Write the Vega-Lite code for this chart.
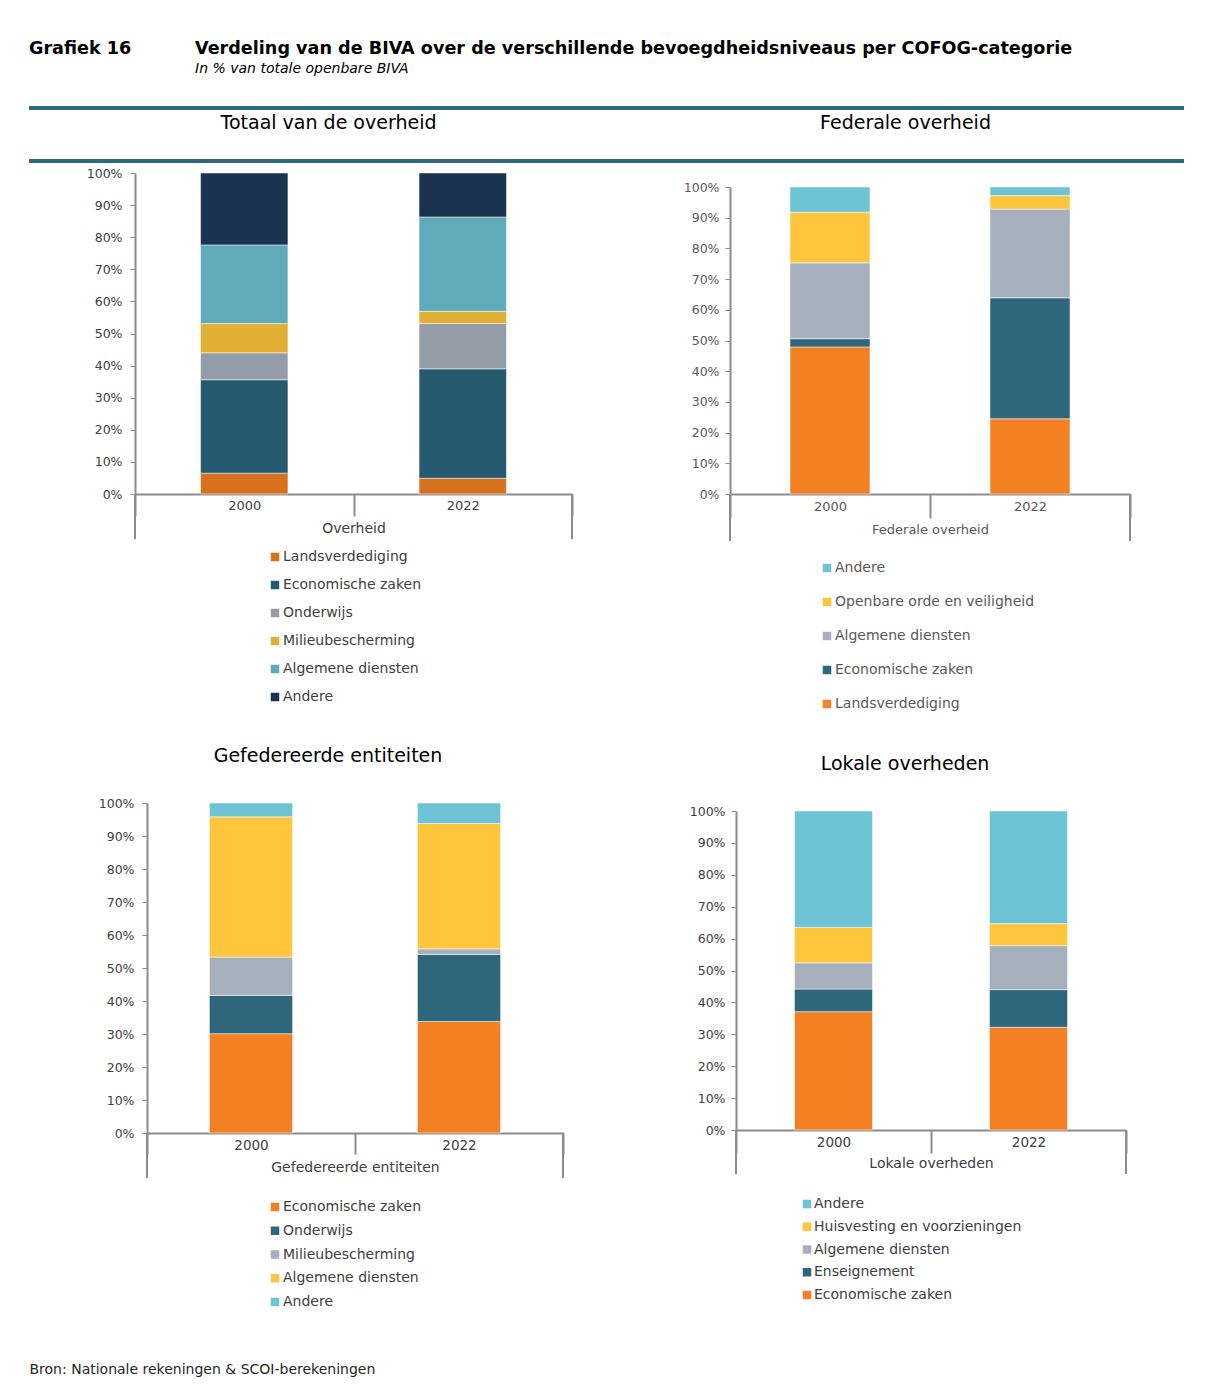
{
  "$schema": "https://vega.github.io/schema/vega-lite/v6.json",
  "background": "white",
  "padding": {"top": 40, "left": 27, "right": 0, "bottom": 0},
  "config": {
    "view": {"stroke": null},
    "font": "DejaVu Sans",
    "axis": {"labelFont": "DejaVu Sans", "titleFont": "DejaVu Sans"},
    "legend": {"labelFont": "DejaVu Sans"}
  },
  "columns": 5,
  "spacing": 0,
  "align": "each",
  "bounds": "flush",
  "resolve": {
    "scale": {"color": "independent", "x": "independent", "y": "independent"},
    "legend": {"color": "independent"}
  },
  "concat": [
    {
      "width": 106, "height": 27, "data": {"values": []}, "mark": "text",
      "title": {"text": "Grafiek 16", "anchor": "start", "font": "DejaVu Sans", "fontSize": 17.6, "fontWeight": "bold", "color": "#000000", "offset": 5, "dy": -18}
    },
    {
      "width": 437, "height": 27, "data": {"values": []}, "mark": "text",
      "title": {
        "text": "Verdeling van de BIVA over de verschillende bevoegdheidsniveaus per COFOG-categorie",
        "subtitle": "In % van totale openbare BIVA",
        "anchor": "start", "dx": 60, "font": "DejaVu Sans", "fontSize": 17.6, "fontWeight": "bold", "color": "#000000",
        "subtitleFont": "DejaVu Sans", "subtitleFontSize": 14, "subtitleFontStyle": "italic", "subtitleColor": "#000000",
        "subtitlePadding": 4, "offset": 5
      }
    },
    {"width": 1, "height": 1, "data": {"values": []}, "mark": "text"},
    {"width": 1, "height": 1, "data": {"values": []}, "mark": "text"},
    {"width": 1, "height": 1, "data": {"values": []}, "mark": "text"},

    {
      "width": 106, "height": 53,
      "data": {"values": [{"lijn": 0}, {"lijn": 1}]},
      "mark": {"type": "rule", "color": "#2E6B80", "strokeWidth": 4},
      "encoding": {"y": {"field": "lijn", "type": "quantitative", "scale": {"domain": [0, 1]}, "axis": null}}
    },
    {
      "width": 437, "height": 53,
      "layer": [
        {
          "data": {"values": [{"lijn": 0}, {"lijn": 1}]},
          "mark": {"type": "rule", "color": "#2E6B80", "strokeWidth": 4},
          "encoding": {"y": {"field": "lijn", "type": "quantitative", "scale": {"domain": [0, 1]}, "axis": null}}
        },
        {
          "data": {"values": [{"titel": "Totaal van de overheid"}]},
          "mark": {"type": "text", "font": "DejaVu Sans", "fontSize": 19, "color": "#000000", "baseline": "middle", "align": "center", "dx": -25, "dy": -11.5},
          "encoding": {"y": {"datum": 0.5, "type": "quantitative"}, "text": {"field": "titel"}}
        }
      ]
    },
    {
      "width": 158, "height": 53,
      "data": {"values": [{"lijn": 0}, {"lijn": 1}]},
      "mark": {"type": "rule", "color": "#2E6B80", "strokeWidth": 4},
      "encoding": {"y": {"field": "lijn", "type": "quantitative", "scale": {"domain": [0, 1]}, "axis": null}}
    },
    {
      "width": 400, "height": 53,
      "layer": [
        {
          "data": {"values": [{"lijn": 0}, {"lijn": 1}]},
          "mark": {"type": "rule", "color": "#2E6B80", "strokeWidth": 4},
          "encoding": {"y": {"field": "lijn", "type": "quantitative", "scale": {"domain": [0, 1]}, "axis": null}}
        },
        {
          "data": {"values": [{"titel": "Federale overheid"}]},
          "mark": {"type": "text", "font": "DejaVu Sans", "fontSize": 19, "color": "#000000", "baseline": "middle", "align": "center", "dx": -24.5, "dy": -11.5},
          "encoding": {"y": {"datum": 0.5, "type": "quantitative"}, "text": {"field": "titel"}}
        }
      ]
    },
    {
      "width": 54, "height": 53,
      "data": {"values": [{"lijn": 0}, {"lijn": 1}]},
      "mark": {"type": "rule", "color": "#2E6B80", "strokeWidth": 4},
      "encoding": {"y": {"field": "lijn", "type": "quantitative", "scale": {"domain": [0, 1]}, "axis": null}}
    },

    {"width": 1, "height": 12, "data": {"values": []}, "mark": "text"},
    {"width": 1, "height": 1, "data": {"values": []}, "mark": "text"},
    {"width": 1, "height": 1, "data": {"values": []}, "mark": "text"},
    {"width": 1, "height": 1, "data": {"values": []}, "mark": "text"},
    {"width": 1, "height": 1, "data": {"values": []}, "mark": "text"},

    {"width": 1, "height": 1, "data": {"values": []}, "mark": "text"},
    {
      "width": 437, "height": 321,
      "data": {"values": [
        {"jaar": "2000", "categorie": "Landsverdediging", "volgorde": 1, "aandeel": 0.065},
        {"jaar": "2000", "categorie": "Economische zaken", "volgorde": 2, "aandeel": 0.291},
        {"jaar": "2000", "categorie": "Onderwijs", "volgorde": 3, "aandeel": 0.084},
        {"jaar": "2000", "categorie": "Milieubescherming", "volgorde": 4, "aandeel": 0.091},
        {"jaar": "2000", "categorie": "Algemene diensten", "volgorde": 5, "aandeel": 0.245},
        {"jaar": "2000", "categorie": "Andere", "volgorde": 6, "aandeel": 0.224},
        {"jaar": "2022", "categorie": "Landsverdediging", "volgorde": 1, "aandeel": 0.049},
        {"jaar": "2022", "categorie": "Economische zaken", "volgorde": 2, "aandeel": 0.341},
        {"jaar": "2022", "categorie": "Onderwijs", "volgorde": 3, "aandeel": 0.141},
        {"jaar": "2022", "categorie": "Milieubescherming", "volgorde": 4, "aandeel": 0.038},
        {"jaar": "2022", "categorie": "Algemene diensten", "volgorde": 5, "aandeel": 0.294},
        {"jaar": "2022", "categorie": "Andere", "volgorde": 6, "aandeel": 0.137}
      ]},
      "layer": [
        {
          "mark": {"type": "bar", "width": {"band": 0.4}, "stroke": "#ffffff", "strokeWidth": 0.5},
          "encoding": {
            "x": {"field": "jaar", "type": "nominal", "scale": {"paddingInner": 0, "paddingOuter": 0},
              "axis": {"title": "Overheid", "labelAngle": 0, "tickBand": "extent", "tickSize": 22, "tickWidth": 2, "tickColor": "#8c8c8c", "domainColor": "#8c8c8c", "domainWidth": 2, "labelFontSize": 13, "labelColor": "#404040", "labelPadding": -16.5, "titleFontSize": 14, "titleFontWeight": "normal", "titleColor": "#404040", "titlePadding": 4}},
            "y": {"field": "aandeel", "type": "quantitative", "stack": "zero", "scale": {"domain": [0, 1]},
              "axis": {"title": null, "format": ".0%", "values": [0, 0.1, 0.2, 0.3, 0.4, 0.5, 0.6, 0.7, 0.8, 0.9, 1], "labelOverlap": false, "grid": false, "domainColor": "#8c8c8c", "domainWidth": 2, "tickColor": "#8c8c8c", "tickSize": 5, "labelFontSize": 12.5, "labelColor": "#404040", "labelPadding": 8}},
            "color": {"field": "categorie", "type": "nominal",
              "scale": {"domain": ["Landsverdediging", "Economische zaken", "Onderwijs", "Milieubescherming", "Algemene diensten", "Andere"], "range": ["#D7711E", "#265A6F", "#949CA7", "#E1AF34", "#60ABBA", "#1A3350"]},
              "legend": {"orient": "none", "legendX": 133, "legendY": 377, "title": null, "direction": "vertical", "symbolType": "square", "symbolSize": 72, "symbolStrokeWidth": 0, "labelFontSize": 14, "labelColor": "#404040", "labelOffset": 1, "rowPadding": 14, "labelLimit": 300, "padding": 0}},
            "order": {"field": "volgorde", "type": "quantitative"}
          }
        },
        {
          "data": {"values": [{"jaar": "2000"}]},
          "mark": {"type": "rule", "color": "#8c8c8c", "strokeWidth": 2},
          "encoding": {"x": {"field": "jaar", "type": "nominal", "bandPosition": 0}, "y": {"datum": 0, "axis": {"title": null, "format": ".0%", "values": [0, 0.1, 0.2, 0.3, 0.4, 0.5, 0.6, 0.7, 0.8, 0.9, 1], "labelOverlap": false, "grid": false, "domainColor": "#8c8c8c", "domainWidth": 2, "tickColor": "#8c8c8c", "tickSize": 5, "labelFontSize": 12.5, "labelColor": "#404040", "labelPadding": 8}}, "y2": {"datum": -0.14}}
        },
        {
          "data": {"values": [{"jaar": "2022"}]},
          "mark": {"type": "rule", "color": "#8c8c8c", "strokeWidth": 2},
          "encoding": {"x": {"field": "jaar", "type": "nominal", "bandPosition": 1}, "y": {"datum": 0, "axis": {"title": null, "format": ".0%", "values": [0, 0.1, 0.2, 0.3, 0.4, 0.5, 0.6, 0.7, 0.8, 0.9, 1], "labelOverlap": false, "grid": false, "domainColor": "#8c8c8c", "domainWidth": 2, "tickColor": "#8c8c8c", "tickSize": 5, "labelFontSize": 12.5, "labelColor": "#404040", "labelPadding": 8}}, "y2": {"datum": -0.14}}
        }
      ]
    },
    {"width": 1, "height": 1, "data": {"values": []}, "mark": "text"},
    {
      "width": 400, "height": 321,
      "data": {"values": [
        {"jaar": "2000", "categorie": "Landsverdediging", "volgorde": 1, "aandeel": 0.479},
        {"jaar": "2000", "categorie": "Economische zaken", "volgorde": 2, "aandeel": 0.027},
        {"jaar": "2000", "categorie": "Algemene diensten", "volgorde": 3, "aandeel": 0.247},
        {"jaar": "2000", "categorie": "Openbare orde en veiligheid", "volgorde": 4, "aandeel": 0.165},
        {"jaar": "2000", "categorie": "Andere", "volgorde": 5, "aandeel": 0.082},
        {"jaar": "2022", "categorie": "Landsverdediging", "volgorde": 1, "aandeel": 0.245},
        {"jaar": "2022", "categorie": "Economische zaken", "volgorde": 2, "aandeel": 0.394},
        {"jaar": "2022", "categorie": "Algemene diensten", "volgorde": 3, "aandeel": 0.289},
        {"jaar": "2022", "categorie": "Openbare orde en veiligheid", "volgorde": 4, "aandeel": 0.044},
        {"jaar": "2022", "categorie": "Andere", "volgorde": 5, "aandeel": 0.028}
      ]},
      "layer": [
        {
          "mark": {"type": "bar", "width": {"band": 0.4}, "stroke": "#ffffff", "strokeWidth": 0.5},
          "encoding": {
            "x": {"field": "jaar", "type": "nominal", "scale": {"paddingInner": 0, "paddingOuter": 0},
              "axis": {"title": "Federale overheid", "labelAngle": 0, "tickBand": "extent", "tickSize": 24, "tickWidth": 2, "tickColor": "#8c8c8c", "domainColor": "#8c8c8c", "domainWidth": 2, "labelFontSize": 13, "labelColor": "#595959", "labelPadding": -17.5, "titleFontSize": 13, "titleFontWeight": "normal", "titleColor": "#595959", "titlePadding": 4}},
            "y": {"field": "aandeel", "type": "quantitative", "stack": "zero", "scale": {"domain": [0, 1], "range": [321, 14]},
              "axis": {"title": null, "format": ".0%", "values": [0, 0.1, 0.2, 0.3, 0.4, 0.5, 0.6, 0.7, 0.8, 0.9, 1], "labelOverlap": false, "grid": false, "domainColor": "#8c8c8c", "domainWidth": 2, "tickColor": "#8c8c8c", "tickSize": 5, "labelFontSize": 12.5, "labelColor": "#595959", "labelPadding": 6}},
            "color": {"field": "categorie", "type": "nominal",
              "scale": {"domain": ["Andere", "Openbare orde en veiligheid", "Algemene diensten", "Economische zaken", "Landsverdediging"], "range": ["#6EC3D4", "#FFC53D", "#A6B0BC", "#2E667C", "#F38123"]},
              "legend": {"orient": "none", "legendX": 90, "legendY": 388, "title": null, "direction": "vertical", "symbolType": "square", "symbolSize": 72, "symbolStrokeWidth": 0, "labelFontSize": 14, "labelColor": "#595959", "labelOffset": 1, "rowPadding": 20, "labelLimit": 300, "padding": 0}},
            "order": {"field": "volgorde", "type": "quantitative"}
          }
        },
        {
          "data": {"values": [{"jaar": "2000"}]},
          "mark": {"type": "rule", "color": "#8c8c8c", "strokeWidth": 2},
          "encoding": {"x": {"field": "jaar", "type": "nominal", "bandPosition": 0}, "y": {"datum": 0, "axis": {"title": null, "format": ".0%", "values": [0, 0.1, 0.2, 0.3, 0.4, 0.5, 0.6, 0.7, 0.8, 0.9, 1], "labelOverlap": false, "grid": false, "domainColor": "#8c8c8c", "domainWidth": 2, "tickColor": "#8c8c8c", "tickSize": 5, "labelFontSize": 12.5, "labelColor": "#595959", "labelPadding": 6}}, "y2": {"datum": -0.153}}
        },
        {
          "data": {"values": [{"jaar": "2022"}]},
          "mark": {"type": "rule", "color": "#8c8c8c", "strokeWidth": 2},
          "encoding": {"x": {"field": "jaar", "type": "nominal", "bandPosition": 1}, "y": {"datum": 0, "axis": {"title": null, "format": ".0%", "values": [0, 0.1, 0.2, 0.3, 0.4, 0.5, 0.6, 0.7, 0.8, 0.9, 1], "labelOverlap": false, "grid": false, "domainColor": "#8c8c8c", "domainWidth": 2, "tickColor": "#8c8c8c", "tickSize": 5, "labelFontSize": 12.5, "labelColor": "#595959", "labelPadding": 6}}, "y2": {"datum": -0.153}}
        }
      ]
    },
    {"width": 1, "height": 1, "data": {"values": []}, "mark": "text"},

    {"width": 1, "height": 309, "data": {"values": []}, "mark": "text"},
    {"width": 1, "height": 1, "data": {"values": []}, "mark": "text"},
    {"width": 1, "height": 1, "data": {"values": []}, "mark": "text"},
    {"width": 1, "height": 1, "data": {"values": []}, "mark": "text"},
    {"width": 1, "height": 1, "data": {"values": []}, "mark": "text"},

    {"width": 1, "height": 1, "data": {"values": []}, "mark": "text"},
    {
      "width": 437, "height": 330,
      "title": {"text": "Gefedereerde entiteiten", "font": "DejaVu Sans", "fontSize": 19, "fontWeight": "normal", "color": "#000000", "anchor": "middle", "dx": -25.5, "offset": 31},
      "data": {"values": [
        {"jaar": "2000", "categorie": "Economische zaken", "volgorde": 1, "aandeel": 0.301},
        {"jaar": "2000", "categorie": "Onderwijs", "volgorde": 2, "aandeel": 0.116},
        {"jaar": "2000", "categorie": "Milieubescherming", "volgorde": 3, "aandeel": 0.116},
        {"jaar": "2000", "categorie": "Algemene diensten", "volgorde": 4, "aandeel": 0.425},
        {"jaar": "2000", "categorie": "Andere", "volgorde": 5, "aandeel": 0.042},
        {"jaar": "2022", "categorie": "Economische zaken", "volgorde": 1, "aandeel": 0.338},
        {"jaar": "2022", "categorie": "Onderwijs", "volgorde": 2, "aandeel": 0.203},
        {"jaar": "2022", "categorie": "Milieubescherming", "volgorde": 3, "aandeel": 0.017},
        {"jaar": "2022", "categorie": "Algemene diensten", "volgorde": 4, "aandeel": 0.38},
        {"jaar": "2022", "categorie": "Andere", "volgorde": 5, "aandeel": 0.062}
      ]},
      "layer": [
        {
          "mark": {"type": "bar", "width": {"band": 0.4}, "stroke": "#ffffff", "strokeWidth": 0.5},
          "encoding": {
            "x": {"field": "jaar", "type": "nominal", "scale": {"paddingInner": 0, "paddingOuter": 0, "range": [12, 428]},
              "axis": {"title": "Gefedereerde entiteiten", "labelAngle": 0, "tickBand": "extent", "tickSize": 21, "tickWidth": 2, "tickColor": "#8c8c8c", "domainColor": "#8c8c8c", "domainWidth": 2, "labelFontSize": 13.5, "labelColor": "#404040", "labelPadding": -15.5, "titleFontSize": 14, "titleFontWeight": "normal", "titleColor": "#404040", "titlePadding": 5}},
            "y": {"field": "aandeel", "type": "quantitative", "stack": "zero", "scale": {"domain": [0, 1]},
              "axis": {"title": null, "offset": -12, "format": ".0%", "values": [0, 0.1, 0.2, 0.3, 0.4, 0.5, 0.6, 0.7, 0.8, 0.9, 1], "labelOverlap": false, "grid": false, "domainColor": "#8c8c8c", "domainWidth": 2, "tickColor": "#8c8c8c", "tickSize": 5, "labelFontSize": 12.5, "labelColor": "#404040", "labelPadding": 8}},
            "color": {"field": "categorie", "type": "nominal",
              "scale": {"domain": ["Economische zaken", "Onderwijs", "Milieubescherming", "Algemene diensten", "Andere"], "range": ["#F38123", "#2E667C", "#A6B0BC", "#FFC53D", "#6EC3D4"]},
              "legend": {"orient": "none", "legendX": 133, "legendY": 397, "title": null, "direction": "vertical", "symbolType": "square", "symbolSize": 72, "symbolStrokeWidth": 0, "labelFontSize": 14, "labelColor": "#404040", "labelOffset": 1, "rowPadding": 9.75, "labelLimit": 300, "padding": 0}},
            "order": {"field": "volgorde", "type": "quantitative"}
          }
        },
        {
          "data": {"values": [{"jaar": "2000"}]},
          "mark": {"type": "rule", "color": "#8c8c8c", "strokeWidth": 2},
          "encoding": {"x": {"field": "jaar", "type": "nominal", "bandPosition": 0}, "y": {"datum": 0, "axis": {"title": null, "offset": -12, "format": ".0%", "values": [0, 0.1, 0.2, 0.3, 0.4, 0.5, 0.6, 0.7, 0.8, 0.9, 1], "labelOverlap": false, "grid": false, "domainColor": "#8c8c8c", "domainWidth": 2, "tickColor": "#8c8c8c", "tickSize": 5, "labelFontSize": 12.5, "labelColor": "#404040", "labelPadding": 8}}, "y2": {"datum": -0.136}}
        },
        {
          "data": {"values": [{"jaar": "2022"}]},
          "mark": {"type": "rule", "color": "#8c8c8c", "strokeWidth": 2},
          "encoding": {"x": {"field": "jaar", "type": "nominal", "bandPosition": 1}, "y": {"datum": 0, "axis": {"title": null, "offset": -12, "format": ".0%", "values": [0, 0.1, 0.2, 0.3, 0.4, 0.5, 0.6, 0.7, 0.8, 0.9, 1], "labelOverlap": false, "grid": false, "domainColor": "#8c8c8c", "domainWidth": 2, "tickColor": "#8c8c8c", "tickSize": 5, "labelFontSize": 12.5, "labelColor": "#404040", "labelPadding": 8}}, "y2": {"datum": -0.136}}
        }
      ]
    },
    {"width": 1, "height": 1, "data": {"values": []}, "mark": "text"},
    {
      "width": 400, "height": 327,
      "title": {"text": "Lokale overheden", "font": "DejaVu Sans", "fontSize": 19, "fontWeight": "normal", "color": "#000000", "anchor": "middle", "dx": -25, "offset": 29.5},
      "data": {"values": [
        {"jaar": "2000", "categorie": "Economische zaken", "volgorde": 1, "aandeel": 0.371},
        {"jaar": "2000", "categorie": "Enseignement", "volgorde": 2, "aandeel": 0.071},
        {"jaar": "2000", "categorie": "Algemene diensten", "volgorde": 3, "aandeel": 0.082},
        {"jaar": "2000", "categorie": "Huisvesting en voorzieningen", "volgorde": 4, "aandeel": 0.111},
        {"jaar": "2000", "categorie": "Andere", "volgorde": 5, "aandeel": 0.365},
        {"jaar": "2022", "categorie": "Economische zaken", "volgorde": 1, "aandeel": 0.322},
        {"jaar": "2022", "categorie": "Enseignement", "volgorde": 2, "aandeel": 0.118},
        {"jaar": "2022", "categorie": "Algemene diensten", "volgorde": 3, "aandeel": 0.138},
        {"jaar": "2022", "categorie": "Huisvesting en voorzieningen", "volgorde": 4, "aandeel": 0.069},
        {"jaar": "2022", "categorie": "Andere", "volgorde": 5, "aandeel": 0.353}
      ]},
      "layer": [
        {
          "mark": {"type": "bar", "width": {"band": 0.4}, "stroke": "#ffffff", "strokeWidth": 0.5},
          "encoding": {
            "x": {"field": "jaar", "type": "nominal", "scale": {"paddingInner": 0, "paddingOuter": 0, "range": [6, 396]},
              "axis": {"title": "Lokale overheden", "labelAngle": 0, "tickBand": "extent", "tickSize": 23, "tickWidth": 2, "tickColor": "#8c8c8c", "domainColor": "#8c8c8c", "domainWidth": 2, "labelFontSize": 13.5, "labelColor": "#404040", "labelPadding": -17.5, "titleFontSize": 14, "titleFontWeight": "normal", "titleColor": "#404040", "titlePadding": 2}},
            "y": {"field": "aandeel", "type": "quantitative", "stack": "zero", "scale": {"domain": [0, 1], "range": [327, 8]},
              "axis": {"title": null, "offset": -6, "format": ".0%", "values": [0, 0.1, 0.2, 0.3, 0.4, 0.5, 0.6, 0.7, 0.8, 0.9, 1], "labelOverlap": false, "grid": false, "domainColor": "#8c8c8c", "domainWidth": 2, "tickColor": "#8c8c8c", "tickSize": 5, "labelFontSize": 12.5, "labelColor": "#404040", "labelPadding": 6}},
            "color": {"field": "categorie", "type": "nominal",
              "scale": {"domain": ["Andere", "Huisvesting en voorzieningen", "Algemene diensten", "Enseignement", "Economische zaken"], "range": ["#6EC3D4", "#FFC53D", "#A6B0BC", "#2E667C", "#F38123"]},
              "legend": {"orient": "none", "legendX": 70, "legendY": 394, "title": null, "direction": "vertical", "symbolType": "square", "symbolSize": 72, "symbolStrokeWidth": 0, "labelFontSize": 14, "labelColor": "#404040", "labelOffset": 0, "rowPadding": 8.75, "labelLimit": 300, "padding": 0}},
            "order": {"field": "volgorde", "type": "quantitative"}
          }
        },
        {
          "data": {"values": [{"jaar": "2000"}]},
          "mark": {"type": "rule", "color": "#8c8c8c", "strokeWidth": 2},
          "encoding": {"x": {"field": "jaar", "type": "nominal", "bandPosition": 0}, "y": {"datum": 0, "axis": {"title": null, "offset": -6, "format": ".0%", "values": [0, 0.1, 0.2, 0.3, 0.4, 0.5, 0.6, 0.7, 0.8, 0.9, 1], "labelOverlap": false, "grid": false, "domainColor": "#8c8c8c", "domainWidth": 2, "tickColor": "#8c8c8c", "tickSize": 5, "labelFontSize": 12.5, "labelColor": "#404040", "labelPadding": 6}}, "y2": {"datum": -0.138}}
        },
        {
          "data": {"values": [{"jaar": "2022"}]},
          "mark": {"type": "rule", "color": "#8c8c8c", "strokeWidth": 2},
          "encoding": {"x": {"field": "jaar", "type": "nominal", "bandPosition": 1}, "y": {"datum": 0, "axis": {"title": null, "offset": -6, "format": ".0%", "values": [0, 0.1, 0.2, 0.3, 0.4, 0.5, 0.6, 0.7, 0.8, 0.9, 1], "labelOverlap": false, "grid": false, "domainColor": "#8c8c8c", "domainWidth": 2, "tickColor": "#8c8c8c", "tickSize": 5, "labelFontSize": 12.5, "labelColor": "#404040", "labelPadding": 6}}, "y2": {"datum": -0.138}}
        }
      ]
    },
    {"width": 1, "height": 1, "data": {"values": []}, "mark": "text"},

    {"width": 1, "height": 236, "data": {"values": []}, "mark": "text"},
    {"width": 1, "height": 1, "data": {"values": []}, "mark": "text"},
    {"width": 1, "height": 1, "data": {"values": []}, "mark": "text"},
    {"width": 1, "height": 1, "data": {"values": []}, "mark": "text"},
    {"width": 1, "height": 1, "data": {"values": []}, "mark": "text"},

    {
      "width": 1, "height": 1,
      "data": {"values": [{"bron": "Bron: Nationale rekeningen & SCOI-berekeningen"}]},
      "mark": {"type": "text", "align": "left", "baseline": "middle", "font": "DejaVu Sans", "fontSize": 14, "color": "#262626"},
      "encoding": {"text": {"field": "bron"}}
    }
  ]
}
